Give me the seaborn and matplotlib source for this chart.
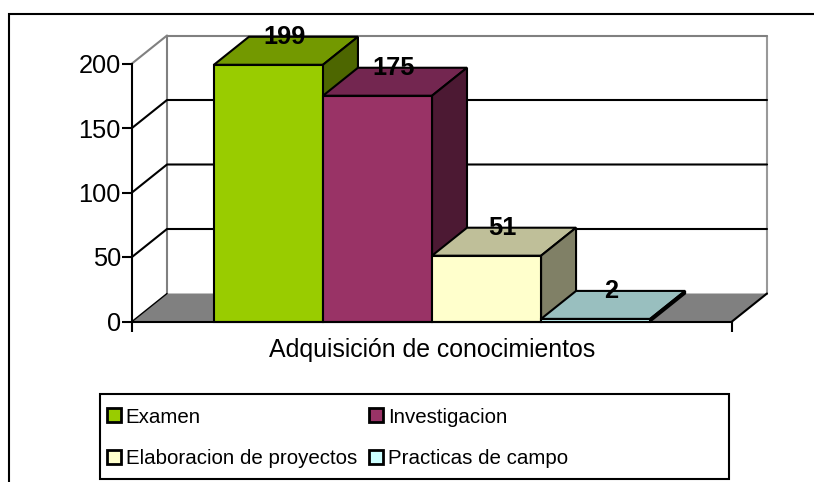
import matplotlib
matplotlib.use("Agg")
import matplotlib.pyplot as plt
from matplotlib.lines import Line2D
from matplotlib.patches import Polygon, Patch, Rectangle
import pandas as pd
import seaborn as sns

category = ["Adquisición de conocimientos"]
series = ["Examen", "Investigacion", "Elaboracion de proyectos", "Practicas de campo"]
values = [199, 175, 51, 2]
ticks = [0, 50, 100, 150, 200]
front = ["#99CC00", "#993366", "#FFFFCC", "#CCFFFF"]
top = ["#739900", "#732650", "#BFBF99", "#99BFBF"]
side = ["#4D6600", "#4C1933", "#808066", "#668080"]

W, H = 814, 482
L, R, B, T = 132, 732, 321.5, 63.5
DX = 35 / (R - L)
DY = 28 / ((B - T) / 200)

sns.set_theme(style="white", rc={"font.family": "Liberation Sans"})
plt.rcParams["font.family"] = ["Liberation Sans", "DejaVu Sans"]
fig = plt.figure(figsize=(W / 100, H / 100), dpi=100, facecolor="white")
ax = fig.add_axes([L / W, 1 - B / H, (R - L) / W, (B - T) / H])
ax.patch.set_visible(False)

df = pd.DataFrame({"cat": category * 4, "serie": series, "valor": values})
sns.barplot(data=df, x="cat", y="valor", hue="serie", hue_order=series, palette=front,
            width=0.727, gap=0, saturation=1, ax=ax, edgecolor="black", linewidth=1.5, zorder=5)
ax.set_xlim(-0.5, 0.5)
ax.set_ylim(0, 200)
bars = sorted([b for c in ax.containers for b in c], key=lambda p: p.get_x())

GREY = "#808080"
# floor and walls
ax.add_patch(Polygon([(-0.5, 0), (-0.5 + DX, DY), (0.5 + DX, DY), (0.5, 0)], closed=True,
                     facecolor=GREY, edgecolor="none", clip_on=False, zorder=1))
ax.plot([-0.5 + DX, -0.5 + DX], [DY, 200 + DY], color=GREY, lw=1.5, clip_on=False, zorder=2)
ax.plot([0.5 + DX, 0.5 + DX], [DY, 200 + DY], color="#999999", lw=1.5, clip_on=False, zorder=2)
ax.plot([-0.5 + DX, 0.5 + DX], [200 + DY, 200 + DY], color=GREY, lw=1.5, clip_on=False, zorder=2)
ax.plot([-0.5, -0.5 + DX], [200, 200 + DY], color=GREY, lw=1.5, clip_on=False, zorder=2)
ax.plot([0.5, 0.5 + DX], [0, DY], color="black", lw=1.5, clip_on=False, zorder=2)
ax.plot([-0.5, -0.5 + DX], [0, DY], color="black", lw=1, clip_on=False, zorder=2)
for v in ticks[1:-1]:
    ax.plot([-0.5, -0.5 + DX, 0.5 + DX], [v, v + DY, v + DY], color="black", lw=1.5,
            clip_on=False, zorder=2)

# depth faces for each bar, left to right
for i, (bar, val) in enumerate(zip(bars, values)):
    x0, x1, h = bar.get_x(), bar.get_x() + bar.get_width(), bar.get_height()
    z = 5 + i
    bar.set_zorder(z + 0.2)
    bar.set_clip_on(False)
    ax.add_patch(Polygon([(x0, h), (x0 + DX, h + DY), (x1 + DX, h + DY), (x1, h)], closed=True,
                         facecolor=top[i], edgecolor="black", lw=1.5, clip_on=False, zorder=z))
    ax.add_patch(Polygon([(x1, 0), (x1 + DX, DY), (x1 + DX, h + DY), (x1, h)], closed=True,
                         facecolor=side[i], edgecolor="black", lw=1.5, clip_on=False, zorder=z))
    ax.text((x0 + x1) / 2 + DX * 0.45, h + DY, str(val), ha="center", va="center", fontsize=18.3,
            fontweight="bold", color="black", zorder=20, clip_on=False)

# axes
for s in ("top", "right"):
    ax.spines[s].set_visible(False)
for s in ("left", "bottom"):
    ax.spines[s].set_visible(True)
    ax.spines[s].set_color("black")
    ax.spines[s].set_linewidth(1.5)
    ax.spines[s].set_zorder(15)
ax.set_xlabel("")
ax.set_ylabel("")
ax.set_yticks(ticks)
ax.tick_params(axis="y", left=True, length=7, width=1.5, color="black", labelsize=18.3, labelcolor="black", pad=1)
ax.set_xticks([0], category)
ax.tick_params(axis="x", bottom=False, labelsize=17.9, labelcolor="black", pad=6)
ax.set_xticks([-0.5, 0.5], minor=True)
ax.tick_params(axis="x", which="minor", bottom=True, length=7, width=1.5, color="black")

# legend: frame drawn separately so its width can match, entries read row by row
if ax.get_legend():
    ax.get_legend().remove()
order = [0, 2, 1, 3]
handles = [Patch(facecolor=front[i], edgecolor="black", lw=2) for i in order]
labels = [series[i] for i in order]
fig.add_artist(Rectangle((100 / W, 1 - 479 / H), 629 / W, 85 / H, transform=fig.transFigure,
                         facecolor="white", edgecolor="black", lw=1.5, zorder=3))
leg = fig.legend(handles, labels, ncol=2, loc="lower left",
                 bbox_to_anchor=(100 / W, 1 - 475 / H),
                 fontsize=14.8, frameon=False, borderaxespad=0, borderpad=0.35,
                 handlelength=0.68, handleheight=0.68,
                 handletextpad=0.22, columnspacing=0.6, labelspacing=1.08, labelcolor="black")
leg.set_zorder(4)

# outer frame of the chart
fig.add_artist(Line2D([9 / W, 9 / W, 1], [0, 1 - 14 / H, 1 - 14 / H], color="black", lw=1.5,
                      solid_joinstyle="miter"))
fig.savefig("out.png", dpi=100, facecolor="white")
